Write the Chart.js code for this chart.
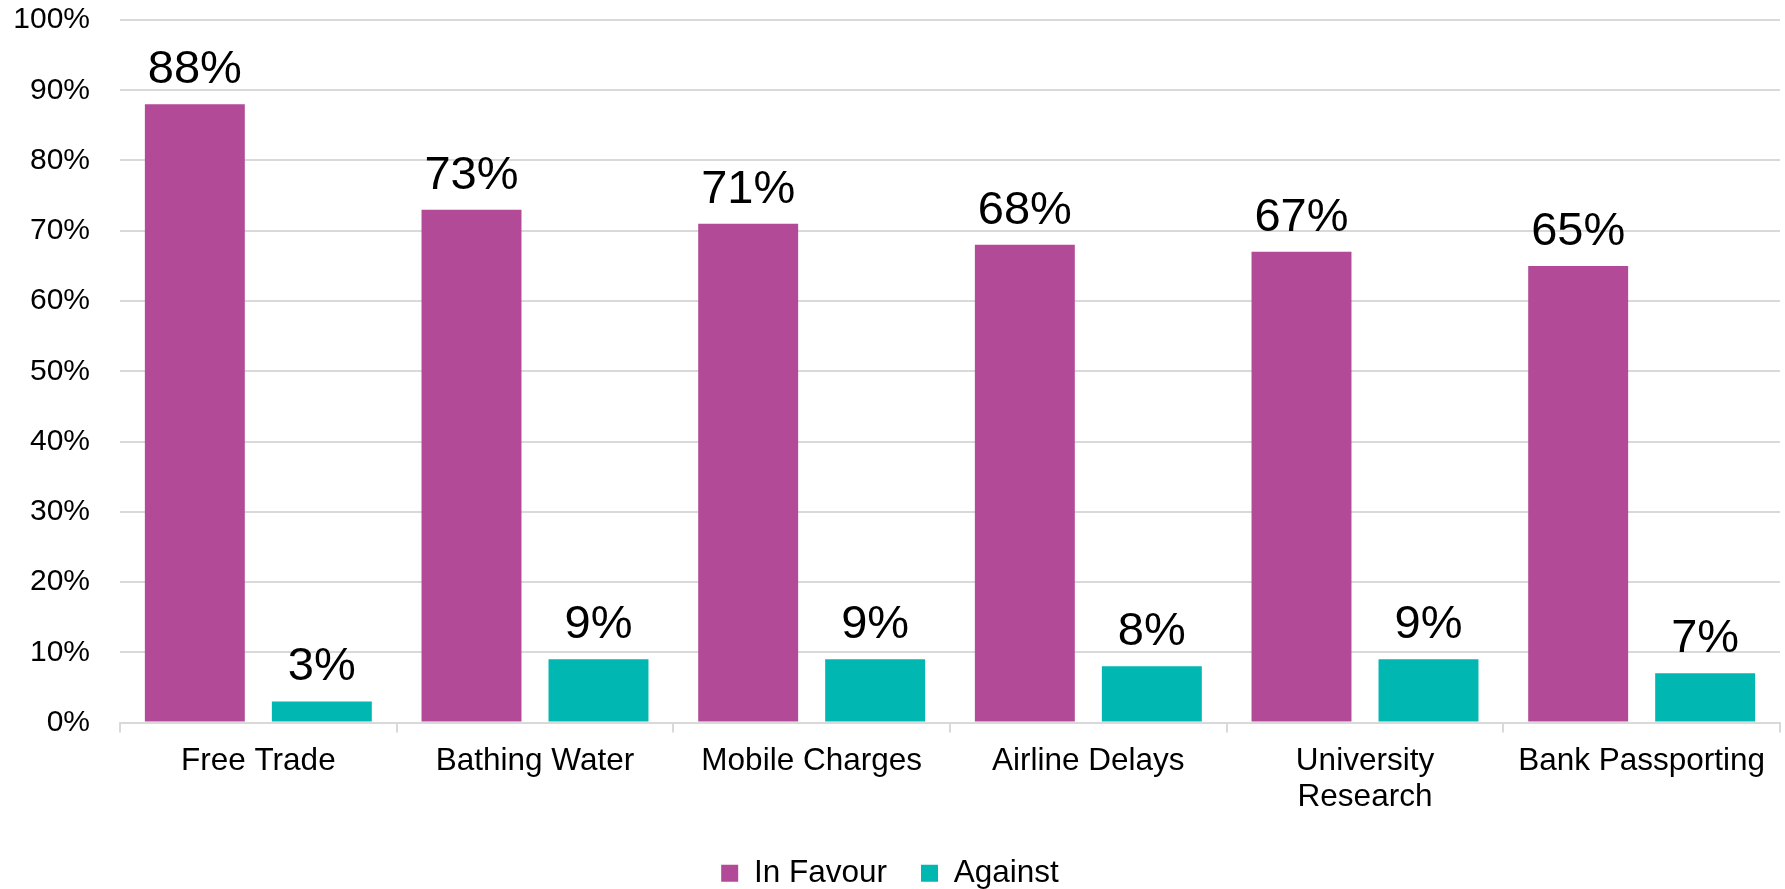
<!DOCTYPE html>
<html>
<head>
<meta charset="utf-8">
<script src="https://cdn.jsdelivr.net/npm/chart.js@4"></script>
<style>
html,body{margin:0;padding:0;background:#fff;}
#wrap{width:1785px;height:889px;position:relative;}
</style>
</head>
<body>
<div id="wrap"><canvas id="c" width="1785" height="889"></canvas></div>
<script>
const categories = ['Free Trade', 'Bathing Water', 'Mobile Charges', 'Airline Delays', ['University', 'Research'], 'Bank Passporting'];
const inFavour = [88, 73, 71, 68, 67, 65];
const against = [3, 9, 9, 8, 9, 7];
const seriesNames = ['In Favour', 'Against'];
const yTicks = [0, 10, 20, 30, 40, 50, 60, 70, 80, 90, 100];

const FONT = "'Liberation Sans', Arial, sans-serif";
const GRID = '#d9d9d9';

const valueLabels = {
  id: 'valueLabels',
  afterDatasetsDraw(chart) {
    const ctx = chart.ctx;
    ctx.save();
    ctx.font = '47px ' + FONT;
    ctx.fillStyle = '#000';
    ctx.textAlign = 'center';
    ctx.textBaseline = 'alphabetic';
    chart.data.datasets.forEach((ds, di) => {
      const meta = chart.getDatasetMeta(di);
      meta.data.forEach((bar, i) => {
        ctx.fillText(ds.data[i] + '%', bar.x, bar.y - 21);
      });
    });
    ctx.restore();
  }
};

new Chart(document.getElementById('c'), {
  type: 'bar',
  data: {
    labels: categories,
    datasets: [
      { label: seriesNames[0], data: inFavour, backgroundColor: '#b34a98', categoryPercentage: 0.918, barPercentage: 0.787 },
      { label: seriesNames[1], data: against, backgroundColor: '#00b7b2', categoryPercentage: 0.918, barPercentage: 0.787 }
    ]
  },
  options: {
    responsive: false,
    animation: false,
    devicePixelRatio: 1,
    layout: { padding: { top: 20, right: 5, left: 0, bottom: -10 } },
    plugins: {
      legend: {
        position: 'bottom',
        labels: {
          font: { family: FONT, size: 31.5 },
          color: '#000',
          boxWidth: 17,
          boxHeight: 17,
          padding: 34
        }
      },
      tooltip: { enabled: false }
    },
    scales: {
      x: {
        afterFit(s) { s.height = 101; },
        grid: { offset: true, drawOnChartArea: false, drawTicks: true, tickLength: 10, color: GRID, lineWidth: 2 },
        border: { color: GRID, width: 2 },
        ticks: { font: { family: FONT, size: 31.5, lineHeight: 1.17 }, color: '#000', padding: 10, maxRotation: 0, autoSkip: false }
      },
      y: {
        min: 0, max: 100,
        afterFit(s) { s.width = 120; s.paddingTop = 0; s.paddingBottom = 0; },
        afterBuildTicks(s) { s.ticks = yTicks.map(v => ({ value: v })); },
        grid: { color: GRID, lineWidth: 2, drawTicks: false },
        border: { display: false },
        ticks: { font: { family: FONT, size: 30 }, color: '#000', padding: 30, callback: v => v + '%' }
      }
    }
  },
  plugins: [valueLabels]
});
</script>
</body>
</html>
